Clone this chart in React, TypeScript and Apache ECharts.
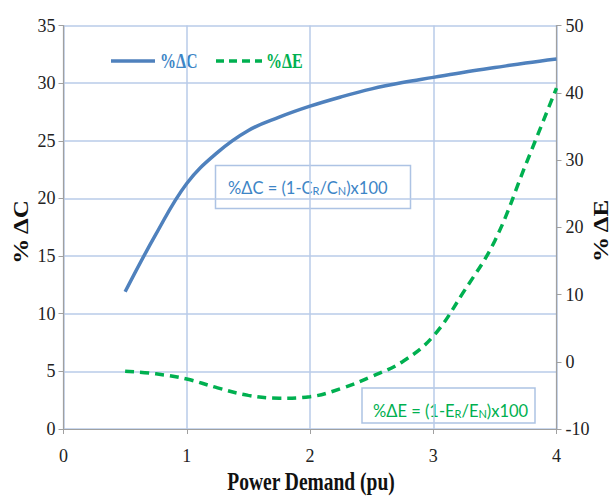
import React, { useEffect, useRef } from "react";
import * as echarts from "echarts";

// Power demand (pu) sample points for each curve
const demand = [0.5, 0.75, 1, 1.25, 1.5, 1.75, 2, 2.25, 2.5, 2.75, 3, 3.25, 3.5, 3.75, 4];
// %ΔC, left axis
const deltaC = [11.9, 16.9, 21.3, 24.0, 25.9, 27.05, 28.0, 28.8, 29.5, 30.05, 30.5, 30.95, 31.35, 31.75, 32.1];
// %ΔE, right axis
const deltaE = [-1.4, -1.8, -2.57, -3.88, -5.0, -5.42, -5.2, -4.0, -2.2, 0.0, 3.8, 10.5, 18.0, 29.3, 40.7];

const seriesNames = ["%ΔC", "%ΔE"];
const xTitle = "Power Demand (pu)";
const leftTitle = "% ΔC";
const rightTitle = "% ΔE";

const blue = "#4f81bd";
const blueText = "#3d85c6";
const green = "#00b050";

const serif = "'Liberation Serif', 'Times New Roman', serif";
const sans = "Lato, 'Liberation Sans', sans-serif";

export default function App() {
  const ref = useRef<HTMLDivElement>(null);

  useEffect(() => {
    if (!ref.current) return;
    const chart = echarts.init(ref.current, undefined, { renderer: "svg" });

    const tickLabel = { fontFamily: serif, fontSize: 18, color: "#222" };
    const axisLine = { show: true, lineStyle: { color: "#a0a0a0", width: 1.2 } };
    const axisTick = { show: true, length: 5, lineStyle: { color: "#a0a0a0" } };
    const grid = { show: true, lineStyle: { color: "#b8cbe9", width: 1.5 } };

    const boldTitle = (text: string, x: number, y: number, size: number, extra: any = {}) => ({
      type: "text",
      x,
      y,
      ...extra,
      style: {
        text,
        fontFamily: serif,
        fontSize: size,
        fontWeight: "bold",
        fill: "#111",
        align: "center",
        verticalAlign: "middle",
      },
    });

    const formula = (letter: string, color: string, x: number, y: number) => ({
      type: "text",
      x,
      y,
      style: {
        text: `{a|%Δ${letter} = (1-${letter}}{s|R}{a|/${letter}}{s|N}{a|)x100}`,
        verticalAlign: "middle",
        rich: {
          a: { fontFamily: sans, fontSize: 16.5, fill: color, verticalAlign: "bottom", lineHeight: 20 },
          s: { fontFamily: sans, fontSize: 11, fill: color, verticalAlign: "bottom", lineHeight: 10 },
        },
      },
    });

    chart.setOption({
      animation: false,
      backgroundColor: "#fff",
      grid: { left: 63.5, right: 54.5, top: 25.5, bottom: 68 },
      xAxis: {
        type: "value",
        min: 0,
        max: 4,
        interval: 1,
        axisLine,
        axisTick,
        axisLabel: { ...tickLabel, margin: 18 },
        splitLine: grid,
      },
      yAxis: [
        {
          type: "value",
          min: 0,
          max: 35,
          interval: 5,
          axisLine,
          axisTick,
          axisLabel: { ...tickLabel, margin: 8 },
          splitLine: grid,
        },
        {
          type: "value",
          position: "right",
          min: -10,
          max: 50,
          interval: 10,
          axisLine,
          axisTick,
          axisLabel: { ...tickLabel, margin: 9 },
          splitLine: { show: false },
        },
      ],
      series: [
        {
          name: seriesNames[0],
          type: "line",
          yAxisIndex: 0,
          smooth: 0.4,
          symbol: "none",
          data: demand.map((x, i) => [x, deltaC[i]]),
          lineStyle: { color: blue, width: 3.5 },
        },
        {
          name: seriesNames[1],
          type: "line",
          yAxisIndex: 1,
          smooth: 0.4,
          symbol: "none",
          data: demand.map((x, i) => [x, deltaE[i]]),
          lineStyle: { color: green, width: 3.5, type: [9, 6] },
        },
      ],
      graphic: [
        // legend
        {
          type: "line",
          shape: { x1: 111, y1: 61, x2: 155, y2: 61 },
          style: { stroke: blue, lineWidth: 3.5 },
        },
        {
          type: "text",
          x: 160,
          y: 61,
          scaleX: 0.8,
          style: {
            text: seriesNames[0],
            fontFamily: serif,
            fontSize: 20,
            fontWeight: "bold",
            fill: blueText,
            align: "left",
            verticalAlign: "middle",
          },
        },
        {
          type: "line",
          shape: { x1: 216, y1: 61, x2: 262, y2: 61 },
          style: { stroke: green, lineWidth: 3.5, lineDash: [8, 5] },
        },
        {
          type: "text",
          x: 266,
          y: 61,
          scaleX: 0.8,
          style: {
            text: seriesNames[1],
            fontFamily: serif,
            fontSize: 20,
            fontWeight: "bold",
            fill: green,
            align: "left",
            verticalAlign: "middle",
          },
        },
        // axis titles
        boldTitle(leftTitle, 21, 232, 25, { rotation: Math.PI / 2, scaleY: 0.8 }),
        boldTitle(rightTitle, 601, 231, 25, { rotation: Math.PI / 2, scaleY: 0.8 }),
        boldTitle(xTitle, 311, 482, 25, { scaleX: 0.78 }),
        // formula boxes
        {
          type: "rect",
          shape: { x: 215.5, y: 165.5, width: 195, height: 43 },
          style: { fill: "#fff", stroke: "#adc3e4", lineWidth: 1.5 },
        },
        formula("C", blueText, 228, 186),
        {
          type: "rect",
          shape: { x: 362, y: 388, width: 173, height: 35 },
          style: { fill: "#fff", stroke: "#adc3e4", lineWidth: 1.5 },
        },
        formula("E", green, 373, 409),
      ],
    });

    return () => chart.dispose();
  }, []);

  return (
    <div
      ref={ref}
      style={{ position: "absolute", left: 0, top: 0, width: 611, height: 497 }}
    />
  );
}
